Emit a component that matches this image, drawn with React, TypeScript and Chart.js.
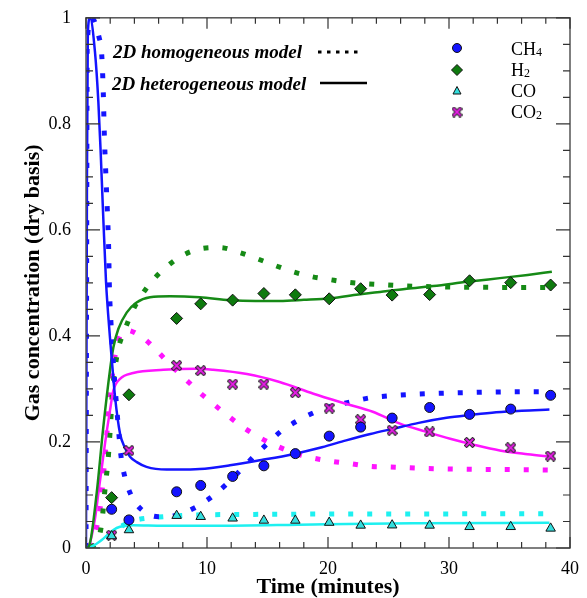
import React, { useEffect, useRef } from 'react';
import { Chart, registerables } from 'chart.js';
Chart.register(...registerables);

// ---------- data ----------
const xTickValues = [0, 10, 20, 30, 40];
const yTickValues = [0, 0.2, 0.4, 0.6, 0.8, 1];

// experimental points
const expTime = [2.12, 3.55, 7.49, 9.48, 12.12, 14.7, 17.3, 20.1, 22.7, 25.3, 28.4, 31.7, 35.1, 38.4];
const expCH4 = [0.073, 0.053, 0.106, 0.118, 0.135, 0.155, 0.178, 0.211, 0.228, 0.245, 0.265, 0.252, 0.262, 0.288];
const expH2 = [0.095, 0.289, 0.433, 0.4605, 0.4675, 0.48, 0.4775, 0.47, 0.489, 0.477, 0.478, 0.504, 0.5005, 0.496];
const expCO = [0.0226, 0.034, 0.061, 0.059, 0.056, 0.052, 0.052, 0.048, 0.0426, 0.043, 0.0426, 0.04, 0.04, 0.037];
const expCO2 = [0.024, 0.184, 0.344, 0.3346, 0.309, 0.309, 0.293, 0.264, 0.242, 0.222, 0.219, 0.199, 0.189, 0.1735];

// 2D heterogeneous model (solid)
const hetCH4T = [0, 0.08, 0.15, 0.33, 0.74, 1.02, 1.21, 1.38, 1.65, 1.98, 2.17, 2.4, 2.81, 3.2, 3.64, 4.2, 5.0, 6.67, 7.5, 9.4, 11.9, 14.5, 17.1, 19.5, 21.5, 23.5, 25.4, 27.5, 29.8, 31.8, 33.9, 36, 38.3];
const hetCH4V = [0, 0.7, 0.97, 1.0, 0.936, 0.842, 0.748, 0.65, 0.504, 0.397, 0.345, 0.285, 0.216, 0.19, 0.172, 0.162, 0.153, 0.148, 0.148, 0.149, 0.156, 0.166, 0.177, 0.19, 0.203, 0.215, 0.225, 0.236, 0.2455, 0.251, 0.256, 0.259, 0.261];
const hetH2T = [0, 0.27, 0.88, 1.43, 1.98, 2.26, 2.67, 3.36, 4.18, 5.29, 6.94, 9.4, 11.9, 14, 16, 18, 20.2, 22.5, 24.3, 26.5, 28.7, 31.5, 34.2, 36.5, 38.5];
const hetH2V = [0, 0.005, 0.103, 0.228, 0.335, 0.378, 0.413, 0.444, 0.463, 0.473, 0.475, 0.473, 0.4675, 0.466, 0.466, 0.468, 0.471, 0.478, 0.483, 0.489, 0.494, 0.502, 0.509, 0.515, 0.521];
const hetCOT = [0, 0.5, 1.3, 1.8, 2.26, 2.81, 3.9, 6.4, 10.5, 18.8, 27, 38.3];
const hetCOV = [0, 0.003, 0.015, 0.025, 0.034, 0.04, 0.043, 0.042, 0.042, 0.0445, 0.0465, 0.0476];
const hetCO2T = [0, 0.25, 0.74, 1.02, 1.57, 1.98, 2.26, 2.81, 3.9, 6.4, 9.15, 10.5, 13.3, 16, 18.8, 21.5, 23.7, 26, 28, 30.1, 32, 34.2, 36.5, 38.5];
const hetCO2V = [0, 0.005, 0.055, 0.103, 0.197, 0.259, 0.297, 0.319, 0.33, 0.336, 0.338, 0.336, 0.328, 0.313, 0.291, 0.272, 0.257, 0.234, 0.22, 0.206, 0.195, 0.184, 0.177, 0.172];

// 2D homogeneous model (dotted)
const homCH4T = [0, 0.05, 0.1, 0.45, 1.07, 1.3, 1.43, 1.51, 1.63, 1.76, 1.87, 1.93, 2.07, 2.26, 2.59, 2.9, 3.2, 3.7, 4.55, 6.0, 7.5, 9.0, 10.3, 11.5, 12.7, 13.75, 14.9, 16.05, 17.4, 18.8, 20.2, 21.8, 23.4, 25, 28.2, 31.3, 34.5, 38.5];
const homCH4V = [0, 0.5, 0.95, 1.0, 0.964, 0.93, 0.858, 0.783, 0.71, 0.638, 0.567, 0.495, 0.422, 0.35, 0.25, 0.172, 0.135, 0.101, 0.073, 0.059, 0.062, 0.076, 0.095, 0.118, 0.145, 0.17, 0.195, 0.219, 0.239, 0.255, 0.267, 0.275, 0.283, 0.287, 0.291, 0.293, 0.2945, 0.295];
const homH2T = [0.4, 1.07, 1.35, 1.49, 1.65, 1.82, 1.93, 2.04, 2.12, 2.23, 2.42, 2.69, 3.22, 3.8, 4.6, 5.56, 6.69, 7.99, 9.4, 11.07, 12.6, 14.1, 15.6, 17.1, 18.6, 20.2, 21.7, 23.3, 24.9, 26.5, 28.1, 31.3, 34.4, 38.5];
const homH2V = [0, 0.02, 0.056, 0.092, 0.128, 0.164, 0.2, 0.236, 0.272, 0.306, 0.343, 0.378, 0.412, 0.445, 0.477, 0.506, 0.531, 0.552, 0.564, 0.5667, 0.558, 0.546, 0.533, 0.521, 0.512, 0.506, 0.501, 0.498, 0.496, 0.494, 0.493, 0.492, 0.4915, 0.4915];
const homCOT = [0.4, 1.3, 2.0, 3.0, 4.0, 5.34, 7.0, 8.6, 13.4, 20, 38.5];
const homCOV = [0, 0.012, 0.025, 0.042, 0.052, 0.057, 0.06, 0.062, 0.0633, 0.064, 0.0645];
const homCO2T = [0.4, 1.2, 1.6, 2.0, 2.53, 3.3, 4.68, 5.9, 6.94, 8.1, 9.26, 10.45, 11.7, 12.97, 14.3, 15.7, 17.2, 18.7, 20.3, 21.9, 23.5, 25, 28.2, 31.4, 34.5, 38.5];
const homCO2V = [0, 0.08, 0.18, 0.29, 0.378, 0.411, 0.397, 0.371, 0.346, 0.321, 0.296, 0.273, 0.25, 0.228, 0.209, 0.193, 0.179, 0.17, 0.1635, 0.159, 0.154, 0.153, 0.15, 0.1485, 0.148, 0.147];

// ---------- styling ----------
const C_BLUE = '#1414ff';
const C_GREEN = '#168a16';
const C_MAG = '#ff14ff';
const C_CYAN = '#1ef0f0';
const FONT = '"Liberation Serif", "Times New Roman", serif';

const pts = (t: number[], v: number[]) => t.map((x, i) => ({ x, y: v[i] }));

function makeCross(): HTMLCanvasElement {
  const c = document.createElement('canvas');
  c.width = 11; c.height = 11;
  const g = c.getContext('2d')!;
  const path = () => {
    g.beginPath();
    g.moveTo(2.5, 2.5); g.lineTo(8.5, 8.5);
    g.moveTo(8.5, 2.5); g.lineTo(2.5, 8.5);
    g.stroke();
  };
  g.lineCap = 'square';
  g.strokeStyle = '#222'; g.lineWidth = 4; path();
  g.strokeStyle = '#e61ee6'; g.lineWidth = 2; path();
  return c;
}

const framePlugin = {
  id: 'frameTicks',
  afterDraw(chart: any) {
    const { ctx, chartArea: a, scales } = chart;
    const xs = scales.x, ys = scales.y;
    ctx.save();
    ctx.strokeStyle = '#555';
    ctx.lineWidth = 1.5;
    ctx.strokeRect(a.left, a.top, a.right - a.left, a.bottom - a.top);
    ctx.strokeStyle = '#333';
    ctx.lineWidth = 1.2;
    ctx.beginPath();
    for (let v = 0; v <= 40; v += 2) {
      const px = xs.getPixelForValue(v);
      const len = v % 10 === 0 ? 11 : 6;
      ctx.moveTo(px, a.bottom); ctx.lineTo(px, a.bottom - len);
      ctx.moveTo(px, a.top); ctx.lineTo(px, a.top + len);
    }
    for (let k = 0; k <= 20; k++) {
      const v = k * 0.05;
      const py = ys.getPixelForValue(v);
      const len = k % 4 === 0 ? 14 : 7;
      ctx.moveTo(a.left, py); ctx.lineTo(a.left + len, py);
      ctx.moveTo(a.right, py); ctx.lineTo(a.right - len, py);
    }
    ctx.stroke();

    // model legend
    ctx.fillStyle = '#000';
    ctx.textBaseline = 'alphabetic';
    ctx.textAlign = 'left';
    ctx.font = `bold italic 19px ${FONT}`;
    ctx.fillText('2D homogeneous model', 113, 58);
    ctx.fillText('2D heterogeneous model', 112, 90);
    ctx.strokeStyle = '#000';
    ctx.lineWidth = 3;
    ctx.setLineDash([3.5, 5.5]);
    ctx.beginPath(); ctx.moveTo(318, 52); ctx.lineTo(363, 52); ctx.stroke();
    ctx.setLineDash([]);
    ctx.lineWidth = 2.5;
    ctx.beginPath(); ctx.moveTo(320, 83); ctx.lineTo(367, 83); ctx.stroke();

    // species legend
    const mx = 457;
    const rows = [48, 70, 91, 112];
    ctx.lineWidth = 1;
    ctx.strokeStyle = '#111';
    ctx.fillStyle = C_BLUE;
    ctx.beginPath(); ctx.arc(mx, rows[0], 4.5, 0, Math.PI * 2); ctx.fill(); ctx.stroke();
    ctx.fillStyle = '#0e7a0e';
    ctx.beginPath();
    ctx.moveTo(mx, rows[1] - 5.5); ctx.lineTo(mx + 5.5, rows[1]); ctx.lineTo(mx, rows[1] + 5.5); ctx.lineTo(mx - 5.5, rows[1]); ctx.closePath();
    ctx.fill(); ctx.stroke();
    ctx.fillStyle = '#33dede';
    ctx.beginPath();
    ctx.moveTo(mx, rows[2] - 4.5); ctx.lineTo(mx + 4, rows[2] + 3); ctx.lineTo(mx - 4, rows[2] + 3); ctx.closePath();
    ctx.fill(); ctx.stroke();
    const cr = makeCross();
    ctx.drawImage(cr, mx - cr.width / 2, rows[3] - cr.height / 2);

    const label = (main: string, sub: string, y: number) => {
      ctx.fillStyle = '#000';
      ctx.font = `18px ${FONT}`;
      ctx.fillText(main, 511, y);
      const w = ctx.measureText(main).width;
      if (sub) {
        ctx.font = `12px ${FONT}`;
        ctx.fillText(sub, 511 + w, y + 1);
      }
    };
    label('CH', '4', 55);
    label('H', '2', 76);
    label('CO', '', 97);
    label('CO', '2', 118);
    ctx.restore();
  },
};

export default function App() {
  const ref = useRef<HTMLCanvasElement>(null);
  useEffect(() => {
    const cross = makeCross();
    const solid = (t: number[], v: number[], color: string, order: number) => ({
      type: 'scatter' as const,
      data: pts(t, v),
      showLine: true,
      borderColor: color,
      borderWidth: 2.5,
      pointRadius: 0,
      cubicInterpolationMode: 'monotone' as const,
      order,
    });
    const dotted = (t: number[], v: number[], color: string, order: number) => ({
      type: 'scatter' as const,
      data: pts(t, v),
      showLine: true,
      borderColor: color,
      borderWidth: 5,
      borderDash: [5, 14],
      borderCapStyle: 'butt' as const,
      pointRadius: 0,
      cubicInterpolationMode: 'monotone' as const,
      order,
    });
    const marks = (v: number[], style: any, fill: string, radius: number) => ({
      type: 'scatter' as const,
      data: pts(expTime, v),
      showLine: false,
      pointStyle: style,
      pointRadius: radius,
      pointBackgroundColor: fill,
      pointBorderColor: '#111',
      pointBorderWidth: 1,
      order: 0,
    });

    const chart = new Chart(ref.current!, {
      type: 'scatter',
      data: {
        datasets: [
          dotted(homCH4T, homCH4V, C_BLUE, 2),
          dotted(homH2T, homH2V, C_GREEN, 2),
          dotted(homCOT, homCOV, C_CYAN, 2),
          dotted(homCO2T, homCO2V, C_MAG, 2),
          solid(hetCH4T, hetCH4V, C_BLUE, 1),
          solid(hetH2T, hetH2V, C_GREEN, 1),
          solid(hetCOT, hetCOV, C_CYAN, 1),
          solid(hetCO2T, hetCO2V, C_MAG, 1),
          marks(expCH4, 'circle', C_BLUE, 5),
          marks(expH2, 'rectRot', '#0e7a0e', 6),
          marks(expCO, 'triangle', '#33dede', 5.5),
          marks(expCO2, cross, C_MAG, 5),
        ] as any,
      },
      options: {
        animation: false,
        responsive: false,
        devicePixelRatio: 1,
        layout: { padding: { top: 16, right: 17, left: 0, bottom: 0 } },
        plugins: { legend: { display: false }, tooltip: { enabled: false } },
        scales: {
          x: {
            type: 'linear',
            min: 0,
            max: 40,
            afterFit: (s: any) => { s.height = 50; },
            afterBuildTicks: (s: any) => { s.ticks = xTickValues.map((value) => ({ value })); },
            grid: { display: false },
            border: { display: false },
            ticks: { color: '#000', font: { family: FONT, size: 18 }, padding: 2, maxRotation: 0 },
            title: {
              display: true,
              text: 'Time (minutes)',
              color: '#000',
              font: { family: FONT, size: 22, weight: 'bold' },
              padding: { top: 0, bottom: -3 },
            },
          },
          y: {
            type: 'linear',
            min: 0,
            max: 1,
            afterFit: (s: any) => { s.width = 86; },
            afterBuildTicks: (s: any) => { s.ticks = yTickValues.map((value) => ({ value })); },
            grid: { display: false },
            border: { display: false },
            ticks: { color: '#000', font: { family: FONT, size: 18 }, padding: 7, callback: (v: any) => String(v) },
            title: {
              display: true,
              text: 'Gas concentration (dry basis)',
              color: '#000',
              font: { family: FONT, size: 22, weight: 'bold' },
              padding: { top: 20, bottom: 0 },
            },
          },
        },
      } as any,
      plugins: [framePlugin],
    });
    return () => chart.destroy();
  }, []);

  return (
    <div style={{ position: 'absolute', left: 0, top: 0, width: 587, height: 598, background: '#fff' }}>
      <canvas ref={ref} width={587} height={598} style={{ display: 'block', width: 587, height: 598 }} />
    </div>
  );
}
